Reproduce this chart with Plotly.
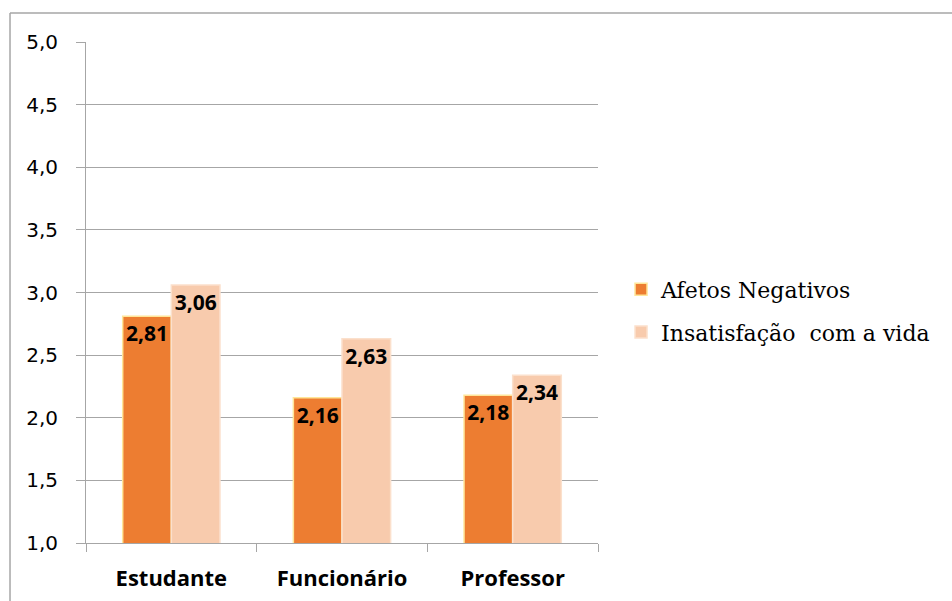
import plotly.graph_objects as go

categories = ["Estudante", "Funcionário", "Professor"]
afetos_negativos = [2.81, 2.16, 2.18]
insatisfacao_vida = [3.06, 2.63, 2.34]
series_names = ["Afetos Negativos", "Insatisfação  com a vida"]
y_ticks = [1.0, 1.5, 2.0, 2.5, 3.0, 3.5, 4.0, 4.5, 5.0]


def fmt(v):
    return f"{v:.2f}".replace(".", ",")


label_font = dict(family="Open Sans", size=21, color="black", weight="bold")

fig = go.Figure()
fig.add_trace(go.Bar(
    x=categories, y=afetos_negativos, name=series_names[0],
    marker=dict(color="#ED7D31", line=dict(color="#FFE699", width=1.5)),
    text=[fmt(v) for v in afetos_negativos],
    textposition="inside", insidetextanchor="end", constraintext="none",
    textangle=0, textfont=label_font, legendgroup="a",
))
fig.add_trace(go.Bar(
    x=categories, y=insatisfacao_vida, name=series_names[1],
    marker=dict(color="#F8CBAD", line=dict(color="#FBE0CC", width=1.5)),
    text=[fmt(v) for v in insatisfacao_vida],
    textposition="inside", insidetextanchor="end", constraintext="none",
    textangle=0, textfont=label_font, legendgroup="b",
))

grey = "#A6A6A6"
fig.update_layout(
    width=952, height=601,
    margin=dict(l=86, r=354, t=42, b=58, autoexpand=False),
    paper_bgcolor="white", plot_bgcolor="white",
    barmode="group", bargap=0.43, bargroupgap=0,
    separators=",.",
    showlegend=True,
    legend=dict(
        x=1.045, xanchor="left", y=0.463, yanchor="middle",
        font=dict(family="DejaVu Serif", size=22, color="black"),
        traceorder="grouped", tracegroupgap=11,
        itemwidth=30,
        bgcolor="rgba(0,0,0,0)",
    ),
    shapes=[
        dict(type="line", xref="paper", yref="paper",
             x0=-0.1484, x1=-0.1484, y0=-0.2, y1=1.0579,
             line=dict(color=grey, width=1.5)),
        dict(type="line", xref="paper", yref="paper",
             x0=-0.1484, x1=1.72, y0=1.0579, y1=1.0579,
             line=dict(color=grey, width=1.5)),
    ],
)
fig.update_yaxes(
    range=[1, 5], tickvals=y_ticks, tickformat=".1f",
    showgrid=True, gridcolor=grey, gridwidth=1,
    showline=True, linecolor=grey, linewidth=1,
    ticks="outside", ticklen=9, tickcolor=grey,
    ticklabelstandoff=14,
    tickfont=dict(family="DejaVu Sans", size=20, color="black"),
    zeroline=False,
)
fig.update_xaxes(
    showline=True, linecolor=grey, linewidth=1,
    ticks="outside", ticklen=8, tickcolor=grey, tickson="boundaries",
    ticklabelstandoff=16,
    tickfont=dict(family="Open Sans", size=22, color="black", weight="bold"),
)

fig.write_html("out.html")
